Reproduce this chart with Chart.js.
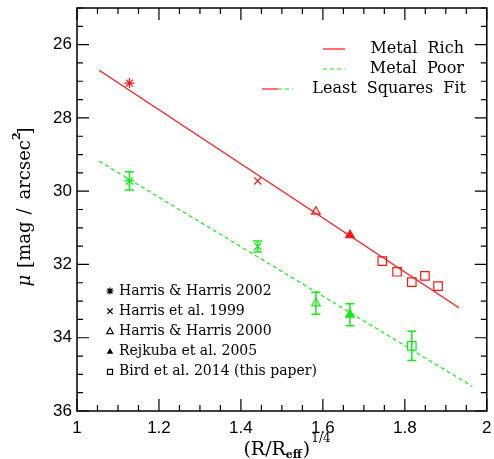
<!DOCTYPE html>
<html>
<head>
<meta charset="utf-8">
<script src="https://cdn.jsdelivr.net/npm/chart.js@4/dist/chart.umd.min.js"></script>
<style>
  body { margin: 0; background: #fff; }
  canvas { display: block; }
</style>
</head>
<body>
<canvas id="muChart" width="494" height="459"></canvas>
<script>
// literature points (first four references)
const refLabels = ["Harris & Harris 2002", "Harris et al. 1999", "Harris & Harris 2000", "Rejkuba et al. 2005", "Bird et al. 2014 (this paper)"];
const refStyles = ["star", "crossRot", "triangle", "triangle", "rect"];
const refFilled = [false, false, false, true, false];
const refX = [1.128, 1.441, 1.583, 1.666];
const richMu = [27.05, 29.72, 30.56, 31.20];
const poorMu = [29.72, 31.51, 33.06, 33.37];
const poorErr = [0.25, 0.15, 0.30, 0.30];

// this paper
const birdX = [1.745, 1.781, 1.817, 1.849, 1.881];
const birdRichMu = [31.91, 32.20, 32.48, 32.31, 32.59];
const birdPoorX = [1.817];
const birdPoorMu = [34.22];
const birdPoorErr = [0.40];

// least squares fits
const richFitX = [1.054, 1.932];
const richFitMu = [26.70, 33.18];
const poorFitX = [1.054, 1.965];
const poorFitMu = [29.18, 35.33];

const xTicks = [1, 1.2, 1.4, 1.6, 1.8, 2];
const yTicks = [26, 28, 30, 32, 34, 36];

const RED = "rgb(255,20,20)";
const GREEN = "rgb(20,235,20)";
const SERIF = "'DejaVu Serif', serif";

function pts(xs, ys, es) {
  return xs.map((x, i) => ({ x: x, y: ys[i], e: es ? es[i] : null }));
}

function markerSet(data, style, filled, color) {
  return {
    data: data,
    pointStyle: style,
    pointRadius: style === "rect" ? 6 : 5,
    pointBorderWidth: 1.2,
    borderColor: color,
    backgroundColor: filled ? color : "rgba(0,0,0,0)",
    pointBackgroundColor: filled ? color : "rgba(0,0,0,0)",
    showLine: false
  };
}

const datasets = [
  { data: pts(richFitX, richFitMu), showLine: true, pointRadius: 0, borderColor: RED, borderWidth: 1.2 },
  { data: pts(poorFitX, poorFitMu), showLine: true, pointRadius: 0, borderColor: GREEN, borderWidth: 1.2, borderDash: [4, 3] }
];
refX.forEach((x, i) => {
  datasets.push(markerSet(pts([x], [richMu[i]]), refStyles[i], refFilled[i], RED));
  datasets.push(markerSet(pts([x], [poorMu[i]], [poorErr[i]]), refStyles[i], refFilled[i], GREEN));
});
datasets.push(markerSet(pts(birdX, birdRichMu), "rect", false, RED));
datasets.push(markerSet(pts(birdPoorX, birdPoorMu, birdPoorErr), "rect", false, GREEN));

function legendSymbol(ctx, style, filled, x, y, r) {
  ctx.beginPath();
  if (style === "star") {
    for (let k = 0; k < 4; k++) {
      const a = k * Math.PI / 4;
      ctx.moveTo(x - r * Math.cos(a), y - r * Math.sin(a));
      ctx.lineTo(x + r * Math.cos(a), y + r * Math.sin(a));
    }
    ctx.stroke();
  } else if (style === "crossRot") {
    const d = r * 0.75;
    ctx.moveTo(x - d, y - d); ctx.lineTo(x + d, y + d);
    ctx.moveTo(x - d, y + d); ctx.lineTo(x + d, y - d);
    ctx.stroke();
  } else if (style === "triangle") {
    ctx.moveTo(x, y - r);
    ctx.lineTo(x + r * 0.9, y + r * 0.6);
    ctx.lineTo(x - r * 0.9, y + r * 0.6);
    ctx.closePath();
    filled ? ctx.fill() : ctx.stroke();
  } else {
    ctx.rect(x - r * 0.7, y - r * 0.7, r * 1.4, r * 1.4);
    ctx.stroke();
  }
}

// draws a run of [text, font, dy, gapBefore] pieces centred on cx
function drawRun(ctx, pieces, cx, baseY) {
  let total = 0;
  pieces.forEach(p => { ctx.font = p[1]; total += (p[3] || 0) + ctx.measureText(p[0]).width; });
  let x = cx - total / 2;
  pieces.forEach(p => {
    ctx.font = p[1];
    x += p[3] || 0;
    ctx.fillText(p[0], x, baseY + p[2]);
    x += ctx.measureText(p[0]).width;
  });
}

const framePlugin = {
  id: "frame",
  afterDatasetsDraw(chart) {
    const ctx = chart.ctx;
    const ys = chart.scales.y;
    const xs = chart.scales.x;
    // error bars
    ctx.save();
    ctx.strokeStyle = GREEN;
    ctx.lineWidth = 1.5;
    chart.data.datasets.forEach(ds => {
      ds.data.forEach(p => {
        if (p.e == null) return;
        const px = xs.getPixelForValue(p.x);
        const y1 = ys.getPixelForValue(p.y - p.e);
        const y2 = ys.getPixelForValue(p.y + p.e);
        ctx.beginPath();
        ctx.moveTo(px, y1); ctx.lineTo(px, y2);
        ctx.moveTo(px - 4.5, y1); ctx.lineTo(px + 4.5, y1);
        ctx.moveTo(px - 4.5, y2); ctx.lineTo(px + 4.5, y2);
        ctx.stroke();
      });
    });
    ctx.restore();
  },
  afterDraw(chart) {
    const ctx = chart.ctx;
    const a = chart.chartArea;
    const xs = chart.scales.x;
    const ys = chart.scales.y;
    ctx.save();
    ctx.strokeStyle = "#000";
    ctx.lineWidth = 1.5;
    ctx.strokeRect(a.left, a.top, a.right - a.left, a.bottom - a.top);
    ctx.lineWidth = 1.2;
    ctx.beginPath();
    for (let v = 1; v <= 2.0001; v += 0.05) {
      const major = Math.abs(v * 5 - Math.round(v * 5)) < 1e-6;
      const len = major ? 12 : 6;
      const px = xs.getPixelForValue(v);
      ctx.moveTo(px, a.bottom); ctx.lineTo(px, a.bottom - len);
      ctx.moveTo(px, a.top); ctx.lineTo(px, a.top + len);
    }
    for (let v = 25; v <= 36.0001; v += 0.5) {
      const major = Math.abs(v / 2 - Math.round(v / 2)) < 1e-6;
      const len = major ? 12 : 6;
      const py = ys.getPixelForValue(v);
      ctx.moveTo(a.left, py); ctx.lineTo(a.left + len, py);
      ctx.moveTo(a.right, py); ctx.lineTo(a.right - len, py);
    }
    ctx.stroke();

    // upper right legend
    ctx.font = "16px " + SERIF;
    ctx.fillStyle = "#000";
    ctx.textAlign = "right";
    ctx.textBaseline = "middle";
    ctx.lineWidth = 1.2;
    ctx.fillText("Metal  Rich", 464, 49);
    ctx.fillText("Metal  Poor", 464, 69);
    ctx.fillText("Least  Squares  Fit", 466, 89);
    ctx.strokeStyle = RED;
    ctx.beginPath(); ctx.moveTo(323, 49); ctx.lineTo(345, 49); ctx.stroke();
    ctx.beginPath(); ctx.moveTo(262, 89); ctx.lineTo(278, 89); ctx.stroke();
    ctx.strokeStyle = GREEN;
    ctx.setLineDash([4, 3]);
    ctx.beginPath(); ctx.moveTo(323, 69); ctx.lineTo(345, 69); ctx.stroke();
    ctx.beginPath(); ctx.moveTo(278, 89); ctx.lineTo(293, 89); ctx.stroke();
    ctx.setLineDash([]);

    // lower left legend
    ctx.font = "14px " + SERIF;
    ctx.textAlign = "left";
    ctx.fillStyle = "#000";
    ctx.strokeStyle = "#000";
    ctx.lineWidth = 1.2;
    refLabels.forEach((lab, i) => {
      const y = 291 + i * 20.2;
      legendSymbol(ctx, refStyles[i], refFilled[i], 110, y, 3.6);
      ctx.fillText(lab, 119, y);
    });

    // x axis title: (R/Reff)^1/4
    ctx.textBaseline = "alphabetic";
    drawRun(ctx, [
      ["(R/R", "19px " + SERIF, 0, 0],
      ["eff", "bold 11px " + SERIF, 3, 0],
      [")", "19px " + SERIF, 0, 1],
      ["1/4", "12px " + SERIF, -13, 1]
    ], 287, 455);

    // y axis title: mu [mag / arcsec^2], rotated
    ctx.translate(30, 207);
    ctx.rotate(-Math.PI / 2);
    drawRun(ctx, [
      ["\u03bc", "italic 18px " + SERIF, 0, 0],
      ["[", "18px " + SERIF, 1, 7],
      ["mag", "18px " + SERIF, 0, 0],
      ["/", "18px " + SERIF, 0, 7],
      ["arcsec", "18px " + SERIF, 0, 9],
      ["2", "bold 11px " + SERIF, -10, 0],
      ["]", "18px " + SERIF, 1, -2]
    ], 0, 0);
    ctx.restore();
  }
};

new Chart(document.getElementById("muChart"), {
  type: "scatter",
  data: { datasets: datasets },
  options: {
    responsive: false,
    animation: false,
    devicePixelRatio: 1,
    layout: { padding: { top: 8, right: 7, left: 0, bottom: 0 } },
    plugins: { legend: { display: false }, tooltip: { enabled: false } },
    scales: {
      x: {
        type: "linear",
        min: 1,
        max: 2,
        grid: { display: false, drawTicks: false },
        border: { display: false },
        afterBuildTicks: s => { s.ticks = xTicks.map(v => ({ value: v })); },
        afterFit: s => { s.height = 48; s.paddingLeft = 0; s.paddingRight = 0; },
        ticks: {
          color: "#000",
          padding: 7,
          maxRotation: 0,
          font: { family: "'Liberation Sans', sans-serif", size: 17 },
          callback: v => String(v)
        }
      },
      y: {
        type: "linear",
        reverse: true,
        min: 25,
        max: 36,
        grid: { display: false, drawTicks: false },
        border: { display: false },
        afterBuildTicks: s => { s.ticks = yTicks.map(v => ({ value: v })); },
        afterFit: s => { s.width = 77; s.paddingTop = 0; s.paddingBottom = 0; },
        ticks: {
          color: "#000",
          padding: 5,
          font: { family: "'Liberation Sans', sans-serif", size: 17 },
          callback: v => String(v)
        }
      }
    }
  },
  plugins: [framePlugin]
});
</script>
</body>
</html>
